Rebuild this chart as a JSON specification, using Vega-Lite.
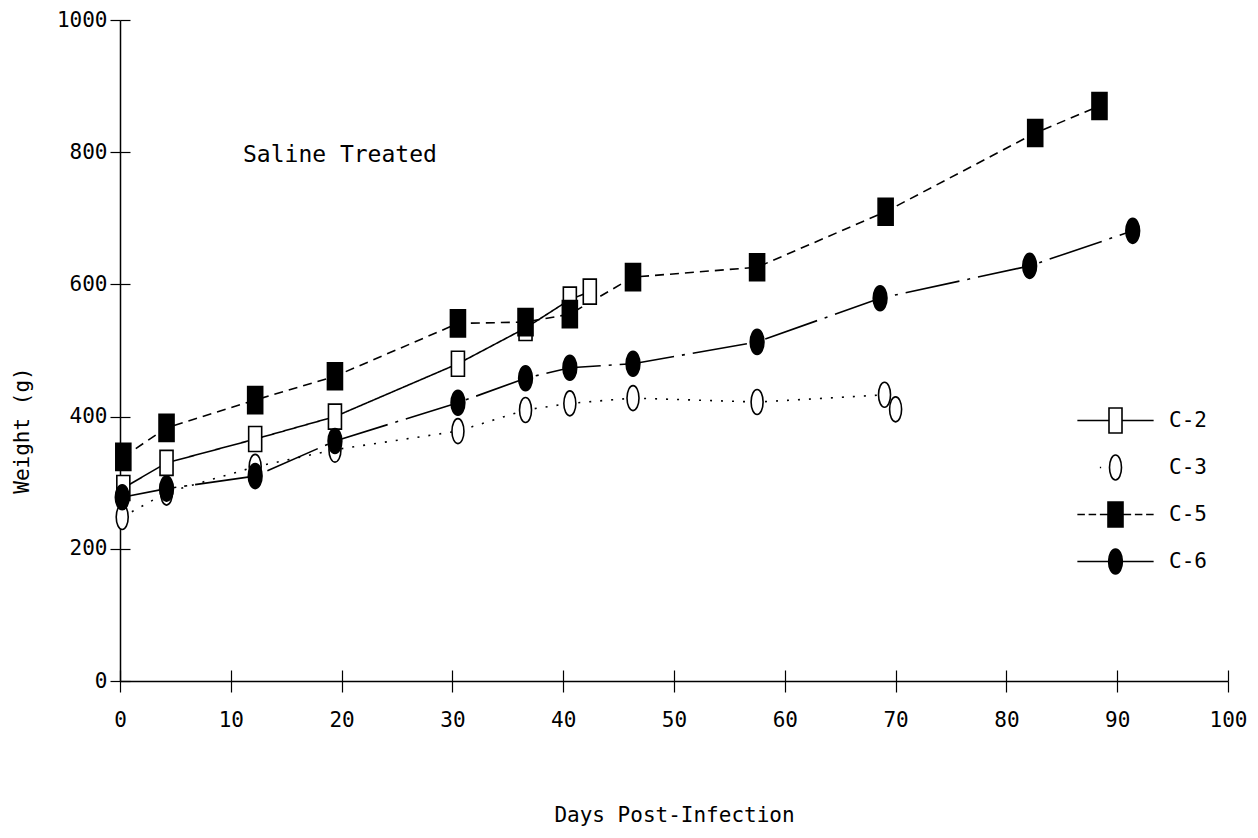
{
  "$schema": "https://vega.github.io/schema/vega-lite/v6.json",
  "width": 1108,
  "height": 661,
  "autosize": {"type": "none"},
  "padding": {"left": 120, "top": 20, "right": 30, "bottom": 157},
  "background": "white",
  "config": {
    "view": {"stroke": null},
    "font": "DejaVu Sans Mono",
    "axis": {"labelFont": "DejaVu Sans Mono", "titleFont": "DejaVu Sans Mono", "labelColor": "black", "titleColor": "black", "tickColor": "black", "domainColor": "black", "grid": false, "labelFlush": false, "labelOverlap": false, "labelBound": false}
  },
  "title": {
    "text": "Saline Treated",
    "anchor": "start",
    "frame": "group",
    "orient": "top",
    "font": "DejaVu Sans Mono",
    "fontSize": 23,
    "fontWeight": "normal",
    "color": "black",
    "dx": 123,
    "dy": 158,
    "offset": 0
  },
  "data": {
    "values": [
      {"series": "C-2", "day": 0.3, "weight": 292},
      {"series": "C-2", "day": 4.2, "weight": 330},
      {"series": "C-2", "day": 12.2, "weight": 366},
      {"series": "C-2", "day": 19.4, "weight": 400},
      {"series": "C-2", "day": 30.5, "weight": 480},
      {"series": "C-2", "day": 36.6, "weight": 534},
      {"series": "C-2", "day": 40.6, "weight": 577},
      {"series": "C-2", "day": 42.4, "weight": 589},
      {"series": "C-3", "day": 0.2, "weight": 248},
      {"series": "C-3", "day": 4.2, "weight": 285},
      {"series": "C-3", "day": 12.2, "weight": 324},
      {"series": "C-3", "day": 19.4, "weight": 350},
      {"series": "C-3", "day": 30.5, "weight": 378},
      {"series": "C-3", "day": 36.6, "weight": 410},
      {"series": "C-3", "day": 40.6, "weight": 420},
      {"series": "C-3", "day": 46.3, "weight": 428},
      {"series": "C-3", "day": 57.5, "weight": 422},
      {"series": "C-3", "day": 69.0, "weight": 433},
      {"series": "C-3", "day": 70.0, "weight": 411},
      {"series": "C-5", "day": 0.3, "weight": 339},
      {"series": "C-5", "day": 4.2, "weight": 383},
      {"series": "C-5", "day": 12.2, "weight": 425},
      {"series": "C-5", "day": 19.4, "weight": 461},
      {"series": "C-5", "day": 30.5, "weight": 541},
      {"series": "C-5", "day": 36.6, "weight": 543},
      {"series": "C-5", "day": 40.6, "weight": 555},
      {"series": "C-5", "day": 46.3, "weight": 611},
      {"series": "C-5", "day": 57.5, "weight": 626},
      {"series": "C-5", "day": 69.1, "weight": 710},
      {"series": "C-5", "day": 82.6, "weight": 829},
      {"series": "C-5", "day": 88.4, "weight": 870},
      {"series": "C-6", "day": 0.2, "weight": 278},
      {"series": "C-6", "day": 4.2, "weight": 291},
      {"series": "C-6", "day": 12.2, "weight": 310},
      {"series": "C-6", "day": 19.4, "weight": 363},
      {"series": "C-6", "day": 30.5, "weight": 421},
      {"series": "C-6", "day": 36.6, "weight": 458},
      {"series": "C-6", "day": 40.6, "weight": 474},
      {"series": "C-6", "day": 46.3, "weight": 480},
      {"series": "C-6", "day": 57.5, "weight": 513},
      {"series": "C-6", "day": 68.6, "weight": 579},
      {"series": "C-6", "day": 82.1, "weight": 628},
      {"series": "C-6", "day": 91.4, "weight": 681}
    ]
  },
  "layer": [
    {
      "mark": {"type": "line", "color": "black", "strokeWidth": 1.6},
      "encoding": {
        "x": {"field": "day", "type": "quantitative", "scale": {"domain": [0, 100], "nice": false},
          "axis": {"orient": "bottom", "values": [0,10,20,30,40,50,60,70,80,90,100], "format": "d", "tickSize": 11, "tickWidth": 1.2, "domainWidth": 1.5, "labelFontSize": 21, "labelPadding": 17, "title": "Days Post-Infection", "titleFontSize": 21, "titleFontWeight": "normal", "titleY": 123, "titleBaseline": "top"}},
        "y": {"field": "weight", "type": "quantitative", "scale": {"domain": [0, 1000], "nice": false},
          "axis": {"orient": "left", "values": [0,200,400,600,800,1000], "format": "d", "tickSize": 10, "tickWidth": 1.2, "domainWidth": 1.5, "labelFontSize": 21, "labelPadding": 3, "title": "Weight (g)", "titleFontSize": 21, "titleFontWeight": "normal", "titleX": -98, "titleY": 410, "titleBaseline": "middle"}},
        "detail": {"field": "series"},
        "strokeDash": {"field": "series", "type": "nominal", "legend": null,
          "scale": {"domain": ["C-2", "C-3", "C-5", "C-6"], "range": [[1, 0], [2, 9], [9, 6], [55, 8, 3, 8]]}}
      }
    },
    {
      "mark": {"type": "point", "filled": true, "stroke": "black", "strokeWidth": 1.6, "opacity": 1, "size": 625},
      "encoding": {
        "x": {"field": "day", "type": "quantitative",
          "axis": {"orient": "bottom", "values": [0,10,20,30,40,50,60,70,80,90,100], "tickSize": -11, "tickWidth": 1.2, "labels": false, "domain": false, "title": null}},
        "y": {"field": "weight", "type": "quantitative",
          "axis": {"orient": "left", "values": [0,200,400,600,800,1000], "tickSize": -10, "tickWidth": 1.2, "labels": false, "domain": false, "title": null}},
        "shape": {"field": "series", "type": "nominal", "legend": null,
          "scale": {"domain": ["C-2", "C-3", "C-5", "C-6"], "range": [
            "M-0.52,-1H0.52V1H-0.52Z",
            "M0,-1A0.48,1 0 1,1 0,1A0.48,1 0 1,1 0,-1Z",
            "M-0.6,-1.08H0.6V1.08H-0.6Z",
            "M0,-1A0.55,1 0 1,1 0,1A0.55,1 0 1,1 0,-1Z"]}},
        "fill": {"field": "series", "type": "nominal", "legend": null,
          "scale": {"domain": ["C-2", "C-3", "C-5", "C-6"], "range": ["white", "white", "black", "black"]}}
      }
    },
    {
      "mark": {"type": "point", "filled": true, "stroke": "black", "strokeWidth": 1.6, "opacity": 0},
      "encoding": {
        "x": {"field": "day", "type": "quantitative", "axis": null},
        "y": {"field": "weight", "type": "quantitative", "axis": null},
        "shape": {"field": "series", "type": "nominal",
          "scale": {"domain": ["C-2", "C-3", "C-5", "C-6"], "range": [
            "M-3.05,0H-0.52M0.52,0H3.05M-0.52,-1H0.52V1H-0.52Z",
            "M-1.25,0H-1.15M0,-1A0.48,1 0 1,1 0,1A0.48,1 0 1,1 0,-1Z",
            "M-3.05,0H-2.45M-2.15,0H-1.55M-1.25,0H-0.6M0.6,0H1.25M1.55,0H2.15M2.45,0H3.05M-0.6,-1H0.6V1H-0.6Z",
            "M-3.05,0H-0.55M0.55,0H3.05M0,-1A0.55,1 0 1,1 0,1A0.55,1 0 1,1 0,-1Z"]},
          "legend": {"orient": "none", "legendX": 982, "legendY": 387, "title": null, "symbolSize": 625, "symbolOpacity": 1, "symbolStrokeColor": "black", "symbolStrokeWidth": 1.6, "labelFont": "DejaVu Sans Mono", "labelFontSize": 21, "labelColor": "black", "labelOffset": 40, "rowPadding": 14,
            "encode": {"symbols": {"update": {"stroke": {"value": "black"}, "strokeWidth": {"value": 1.6}, "opacity": {"value": 1}, "strokeOpacity": {"value": 1}}}}}},
        "fill": {"field": "series", "type": "nominal",
          "scale": {"domain": ["C-2", "C-3", "C-5", "C-6"], "range": ["white", "white", "black", "black"]},
          "legend": {"orient": "none", "legendX": 982, "legendY": 387, "title": null, "symbolSize": 625, "symbolOpacity": 1, "symbolStrokeColor": "black", "symbolStrokeWidth": 1.6, "labelFont": "DejaVu Sans Mono", "labelFontSize": 21, "labelColor": "black", "labelOffset": 40, "rowPadding": 14,
            "encode": {"symbols": {"update": {"stroke": {"value": "black"}, "strokeWidth": {"value": 1.6}, "opacity": {"value": 1}, "strokeOpacity": {"value": 1}}}}}}
      }
    }
  ],
  "resolve": {"scale": {"shape": "independent", "fill": "independent"}, "axis": {"x": "independent", "y": "independent"}}
}
